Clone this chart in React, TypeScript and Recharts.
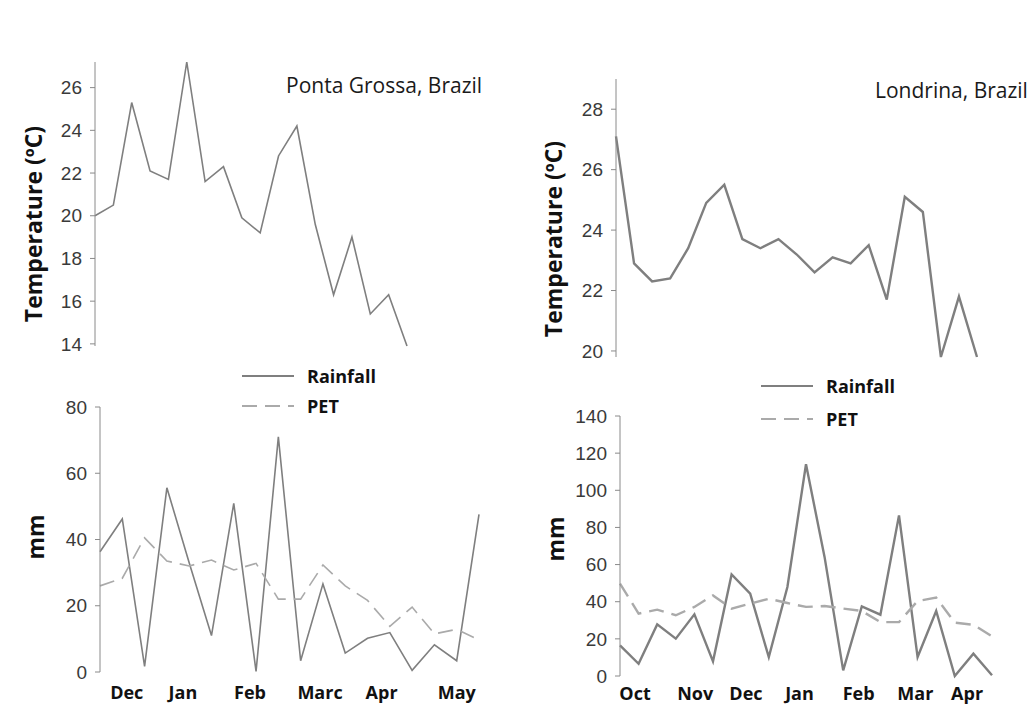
import React from "react";
import { Legend, Line, LineChart, XAxis, YAxis } from "recharts";

// Ponta Grossa: temperature and the water balance, one value per period
const pgTemp = [20.0, 20.5, 25.3, 22.1, 21.7, 27.2, 21.6, 22.3, 19.9, 19.2, 22.8, 24.2, 19.6, 16.3, 19.0, 15.4, 16.3, 13.9];
const pgRain = [36.3, 46.2, 1.7, 55.6, 33, 11, 50.9, 0.2, 71, 3.4, 26.6, 5.7, 10.2, 11.9, 0.5, 8.2, 3.4, 47.6];
const pgPet = [26, 28.3, 40.5, 33.5, 32, 33.8, 30.8, 32.8, 22, 22, 32.3, 26, 21.6, 13.8, 19.6, 11.5, 12.9, 9.7];
const pgMonths = ["Dec", "Jan", "Feb", "Marc", "Apr", "May"];
const pgMonthAt = [1.2, 3.72, 6.73, 9.87, 12.63, 16.0];

// Londrina
const ldTemp = [27.1, 22.9, 22.3, 22.4, 23.4, 24.9, 25.5, 23.7, 23.4, 23.7, 23.2, 22.6, 23.1, 22.9, 23.5, 21.7, 25.1, 24.6, 19.8, 21.8, 19.8];
const ldRain = [16.5, 6.6, 27.8, 20.1, 33.2, 7.9, 54.7, 44.3, 10.2, 47.9, 114, 64, 3, 37.5, 33, 86.5, 10.2, 35, 0, 12, 0.4];
const ldPet = [49.7, 33.6, 35.7, 32.7, 37.2, 43.4, 36.3, 39, 41.6, 39.3, 37.2, 37.7, 36.3, 35, 29, 29, 40.4, 42.2, 28.7, 27.6, 21.4];
const ldMonths = ["Oct", "Nov", "Dec", "Jan", "Feb", "Mar", "Apr"];
const ldMonthAt = [0.81, 4.04, 6.77, 9.65, 12.83, 15.88, 18.66];

const pgTempTicks = [14, 16, 18, 20, 22, 24, 26];
const ldTempTicks = [20, 22, 24, 26, 28];
const pgMmTicks = [0, 20, 40, 60, 80];
const ldMmTicks = [0, 20, 40, 60, 80, 100, 120, 140];

const AXIS = "#8a8a8a";
const LINE = "#7f7f7f";
const DASH = "#aaaaaa";
const NUM_FONT = "'Liberation Sans', Arial, sans-serif";
const SANS = "'Open Sans', 'Noto Sans', sans-serif";

// legend order and line look per series
const seriesOrder = ["rain", "pet"];
const seriesLook: Record<string, { dash?: string; color: string }> = {
  rain: { color: LINE },
  pet: { color: DASH, dash: "15 8" },
};

const numTick = { fontFamily: NUM_FONT, fontSize: 19, fill: "#3a3a3a" };

function SideTitle({ text, cx, cy }: { text: string; cx: number; cy: number }) {
  return (
    <div
      style={{
        position: "absolute",
        left: cx,
        top: cy,
        transform: "translate(-50%, -50%) rotate(-90deg)",
        whiteSpace: "nowrap",
        fontFamily: SANS,
        fontWeight: 700,
        fontSize: 23,
        color: "#111",
      }}
    >
      {text}
    </div>
  );
}

function PlaceTitle({ text, x, cy }: { text: string; x: number; cy: number }) {
  return (
    <div
      style={{
        position: "absolute",
        left: x,
        top: cy,
        transform: "translateY(-50%)",
        whiteSpace: "nowrap",
        fontFamily: SANS,
        fontSize: 21,
        color: "#1a1a1a",
      }}
    >
      {text}
    </div>
  );
}

function KeyRows({ payload, rowH }: { payload?: any[]; rowH: number }) {
  const entries = [...(payload ?? [])].sort(
    (a, b) => seriesOrder.indexOf(a.dataKey) - seriesOrder.indexOf(b.dataKey)
  );
  return (
    <div>
      {entries.map((entry) => {
        const look = seriesLook[entry.dataKey as string];
        return (
          <div key={entry.value} style={{ display: "flex", alignItems: "center", height: rowH }}>
            <svg width={52} height={6} style={{ marginRight: 13 }}>
              <line x1={0} x2={52} y1={3} y2={3} stroke={look.color} strokeWidth={2} strokeDasharray={look.dash} />
            </svg>
            <span style={{ fontFamily: SANS, fontWeight: 700, fontSize: 18, color: "#111" }}>{entry.value}</span>
          </div>
        );
      })}
    </div>
  );
}

type TempProps = {
  left: number;
  top: number;
  width: number;
  height: number;
  margin: { top: number; right: number; bottom: number; left: number };
  axisW: number;
  values: number[];
  domain: [number, number];
  ticks: number[];
  strokeWidth: number;
};

function TempPanel({ left, top, width, height, margin, axisW, values, domain, ticks, strokeWidth }: TempProps) {
  const data = values.map((t, i) => ({ i, t }));
  return (
    <div style={{ position: "absolute", left, top }}>
      <LineChart width={width} height={height} data={data} margin={margin}>
        <XAxis dataKey="i" type="number" domain={[0, values.length - 1]} hide />
        <YAxis
          width={axisW}
          type="number"
          domain={domain}
          ticks={ticks}
          interval={0}
          stroke={AXIS}
          tickSize={5}
          tickMargin={8}
          tick={numTick}
        />
        <Line dataKey="t" stroke={LINE} strokeWidth={strokeWidth} dot={false} isAnimationActive={false} />
      </LineChart>
    </div>
  );
}

type WaterProps = {
  left: number;
  top: number;
  width: number;
  height: number;
  margin: { top: number; right: number; bottom: number; left: number };
  axisW: number;
  monthAxisH: number;
  monthGap: number;
  rain: number[];
  pet: number[];
  months: string[];
  monthAt: number[];
  domain: [number, number];
  ticks: number[];
  strokeWidth: number;
  keyLeft: number;
  keyTop: number;
  keyRowH: number;
};

function WaterPanel(p: WaterProps) {
  const data = p.rain.map((r, i) => ({ i, rain: r, pet: p.pet[i] }));
  const last = p.rain.length - 1;
  const marks = p.rain.map((_, i) => i);
  return (
    <div style={{ position: "absolute", left: p.left, top: p.top }}>
      <LineChart width={p.width} height={p.height} data={data} margin={p.margin}>
        <XAxis
          xAxisId="marks"
          dataKey="i"
          type="number"
          domain={[0, last]}
          ticks={marks}
          interval={0}
          tickFormatter={() => ""}
          tickSize={4}
          height={0}
          stroke={AXIS}
        />
        <XAxis
          xAxisId="months"
          type="number"
          domain={[0, last]}
          ticks={p.monthAt}
          interval={0}
          tickFormatter={(v: number) => p.months[p.monthAt.indexOf(v)] ?? ""}
          axisLine={false}
          tickLine={false}
          tickSize={0}
          tickMargin={p.monthGap}
          height={p.monthAxisH}
          tick={{ fontFamily: SANS, fontWeight: 700, fontSize: 18, fill: "#111" }}
        />
        <YAxis
          width={p.axisW}
          type="number"
          domain={p.domain}
          ticks={p.ticks}
          interval={0}
          stroke={AXIS}
          tickSize={5}
          tickMargin={8}
          tick={numTick}
        />
        <Legend
          layout="vertical"
          align="center"
          verticalAlign="middle"
          wrapperStyle={{ left: p.keyLeft, top: p.keyTop, width: "auto" }}
          content={(props: any) => <KeyRows payload={props.payload} rowH={p.keyRowH} />}
        />
        <Line
          xAxisId="marks"
          name="Rainfall"
          dataKey="rain"
          stroke={LINE}
          strokeWidth={p.strokeWidth}
          dot={false}
          isAnimationActive={false}
        />
        <Line
          xAxisId="marks"
          name="PET"
          dataKey="pet"
          stroke={DASH}
          strokeWidth={p.strokeWidth}
          strokeDasharray={seriesLook.pet.dash}
          dot={false}
          isAnimationActive={false}
        />
      </LineChart>
    </div>
  );
}

export default function App() {
  return (
    <div
      style={{
        position: "absolute",
        left: 0,
        top: 0,
        width: 1032,
        height: 704,
        overflow: "hidden",
        background: "#fff",
      }}
    >
      <TempPanel
        left={0}
        top={0}
        width={500}
        height={360}
        margin={{ top: 62, right: 93, bottom: 14, left: 0 }}
        axisW={95}
        values={pgTemp}
        domain={[13.9, 27.2]}
        ticks={pgTempTicks}
        strokeWidth={1.6}
      />
      <TempPanel
        left={520}
        top={0}
        width={512}
        height={370}
        margin={{ top: 79, right: 55, bottom: 13, left: 0 }}
        axisW={96}
        values={ldTemp}
        domain={[19.8, 29]}
        ticks={ldTempTicks}
        strokeWidth={2.4}
      />
      <WaterPanel
        left={0}
        top={360}
        width={500}
        height={344}
        margin={{ top: 47, right: 21, bottom: 0, left: 0 }}
        axisW={100}
        monthAxisH={32}
        monthGap={14}
        rain={pgRain}
        pet={pgPet}
        months={pgMonths}
        monthAt={pgMonthAt}
        domain={[0, 80]}
        ticks={pgMmTicks}
        strokeWidth={1.6}
        keyLeft={242}
        keyTop={1}
        keyRowH={30}
      />
      <WaterPanel
        left={520}
        top={360}
        width={512}
        height={344}
        margin={{ top: 56, right: 40, bottom: 0, left: 0 }}
        axisW={100}
        monthAxisH={28}
        monthGap={11}
        rain={ldRain}
        pet={ldPet}
        months={ldMonths}
        monthAt={ldMonthAt}
        domain={[0, 140]}
        ticks={ldMmTicks}
        strokeWidth={2.4}
        keyLeft={241}
        keyTop={9}
        keyRowH={33}
      />
      <PlaceTitle text="Ponta Grossa, Brazil" x={286} cy={85} />
      <PlaceTitle text="Londrina, Brazil" x={875} cy={90} />
      <SideTitle text="Temperature (ºC)" cx={33} cy={224} />
      <SideTitle text="Temperature (ºC)" cx={553} cy={239} />
      <SideTitle text="mm" cx={35} cy={537} />
      <SideTitle text="mm" cx={555} cy={539} />
    </div>
  );
}
